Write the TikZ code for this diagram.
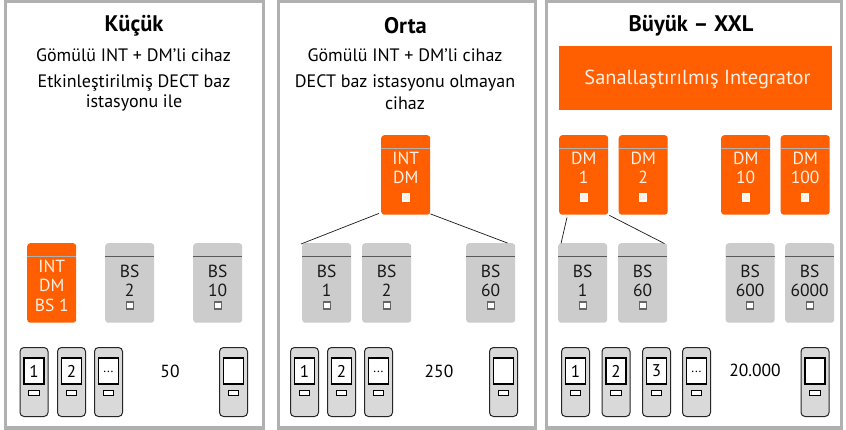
\documentclass[tikz,border=0pt]{standalone}
\usepackage{fontspec}
\setmainfont{PT Sans}
\usetikzlibrary{calc}
\definecolor{orng}{HTML}{FF5F00}
\definecolor{panelgray}{HTML}{B0B0B0}
\definecolor{bsgray}{HTML}{CCCCCC}
\definecolor{phonegray}{HTML}{D9D9D9}
\definecolor{pale}{HTML}{FFF0E6}
\tikzset{
  x=1pt,y=-1pt,
  panel/.style={draw=panelgray,line width=3.3pt,fill=white},
  devbase/.style={anchor=north west,minimum width=49pt,minimum height=79.5pt,inner sep=0pt,rounded corners=3pt,draw=none},
  orangebox/.style={devbase,fill=orng},
  graybox/.style={devbase,fill=bsgray},
  olab/.style={text=pale,font=\fontsize{17.5}{18}\selectfont,inner sep=0pt},
  glab/.style={text=black!90,font=\fontsize{17.5}{18}\selectfont,inner sep=0pt},
  osq/.style={fill=pale,draw=white,line width=1.2pt,minimum size=7pt,inner sep=0pt},
  gsq/.style={fill=white,draw=black!60,line width=1.2pt,minimum size=7pt,inner sep=0pt},
  phonebody/.style={anchor=north west,minimum width=28pt,minimum height=69pt,inner sep=0pt,rounded corners=4pt,fill=phonegray,draw=black!85,line width=1pt},
  screen/.style={minimum width=20pt,minimum height=26pt,inner sep=0pt,fill=white,draw=black,line width=1.6pt,font=\fontsize{17}{18}\selectfont},
  pbtn/.style={minimum width=10.5pt,minimum height=5.5pt,inner sep=0pt,fill=white,draw=black,line width=1.1pt},
  conn/.style={draw=black!90,line width=.7pt},
  titletext/.style={font=\bfseries\fontsize{22.5}{22}\selectfont,inner sep=0pt},
  subtext/.style={font=\fontsize{18}{16}\selectfont,inner sep=0pt},
  cnt/.style={font=\fontsize{17.5}{16}\selectfont,inner sep=0pt}
}
\newcommand{\scrdots}{{\fontsize{13}{13}\selectfont\raisebox{-4pt}{...}}}
% #1 name, #2 x, #3 y, #4 line 1, #5 line 2
\newcommand{\obox}[5]{%
  \node[orangebox] (#1) at (#2,#3) {};
  \draw[panelgray,line width=1.8pt] ($(#1.north west)+(0,13.5)$) -- ($(#1.north east)+(0,13.5)$);
  \node[olab] (#1a) at ($(#1.north)+(0,23)$) {#4};
  \node[olab] (#1b) at ($(#1.north)+(0,42)$) {#5};
  \node[osq] (#1s) at ($(#1.north)+(0,62.5)$) {};
}
\newcommand{\gbox}[5]{%
  \node[graybox] (#1) at (#2,#3) {};
  \draw[black!65,line width=.7pt] ($(#1.north west)+(0,13.5)$) -- ($(#1.north east)+(0,13.5)$);
  \node[glab] (#1a) at ($(#1.north)+(0,28)$) {#4};
  \node[glab] (#1b) at ($(#1.north)+(0,47)$) {#5};
  \node[gsq] (#1s) at ($(#1.north)+(0,62.5)$) {};
}
% #1 name, #2 x, #3 screen text
\newcommand{\phone}[3]{%
  \node[phonebody] (#1) at (#2,347) {};
  \node[screen] (#1s) at ($(#1.north)+(0,24)$) {#3};
  \node[pbtn] (#1b) at ($(#1.north)+(0,46)$) {};
}
\begin{document}
\begin{tikzpicture}
\useasboundingbox (0,0) rectangle (846,430);
\fill[white] (0,0) rectangle (846,430);
\draw[panel] (5.5,1.5) rectangle (263.5,428);
\draw[panel] (278.5,1.5) rectangle (535.5,428);
\draw[panel] (546.5,1.5) rectangle (841.5,428);
% Panel 1
\node[titletext] (t1) at (134,25.5) {Küçük};
\node[subtext] (s1) at (133.5,55.5) {Gömülü INT + DM’li cihaz};
\node[subtext] (s1b) at (134,82.5) {Etkinleştirilmiş DECT baz};
\node[subtext] (s1c) at (134,103) {istasyonu ile};
\node[orangebox] (a1) at (27,243) {};
\draw[panelgray,line width=1.8pt] ($(a1.north west)+(0,13.5)$) -- ($(a1.north east)+(0,13.5)$);
\node[olab] (a1a) at ($(a1.north)+(0,23)$) {INT};
\node[olab] (a1b) at ($(a1.north)+(0,42)$) {DM};
\node[olab] (a1c) at ($(a1.north)+(0,62)$) {BS 1};
\gbox{a2}{105}{243}{BS}{2}
\gbox{a3}{193}{243}{BS}{10}
\phone{p1}{19.5}{1}
\phone{p2}{57}{2}
\phone{p3}{94}{\scrdots}
\phone{p4}{219}{}
\node[cnt] (c1) at (170,371) {50};
% Panel 2
\node[titletext] (t2) at (405.5,25.5) {Orta};
\node[subtext] (s2) at (405,55.5) {Gömülü INT + DM’li cihaz};
\node[subtext] (s2b) at (405,82.5) {DECT baz istasyonu olmayan};
\node[subtext] (s2c) at (405,103) {cihaz};
\obox{b0}{381}{135}{INT}{DM}
\gbox{b1}{302}{243}{BS}{1}
\gbox{b2}{362}{243}{BS}{2}
\gbox{b3}{466}{243}{BS}{60}
\draw[conn] ($(b0.south west)+(-2,-1.5)$) -- ($(b1.north west)+(-1,1)$);
\draw[conn] ($(b0.south east)+(0,-1)$) -- ($(b3.north east)+(-8,0)$);
\phone{q1}{290}{1}
\phone{q2}{327}{2}
\phone{q3}{364}{\scrdots}
\phone{q4}{489}{}
\node[cnt] (c2) at (439,371) {250};
% Panel 3
\node[titletext] (t3) at (691,25.5) {Büyük – XXL};
\node[anchor=north west,minimum width=273pt,minimum height=64pt,inner sep=0pt,fill=orng] (v) at (559,46) {};
\node[text=pale,inner sep=0pt,font=\fontsize{20.4}{22}\selectfont] (vt) at (697.5,79.5) {Sanallaştırılmış Integrator};
\obox{d1}{559}{135}{DM}{1}
\obox{d2}{618.5}{135}{DM}{2}
\obox{d3}{721}{135}{DM}{10}
\obox{d4}{780.5}{135}{DM}{100}
\gbox{e1}{558}{243}{BS}{1}
\gbox{e2}{618}{243}{BS}{60}
\gbox{e3}{725.5}{243}{BS}{600}
\gbox{e4}{785}{243}{BS}{6000}
\draw[conn] ($(d1.south west)+(8,2.5)$) -- ($(e1.north west)+(3,0.5)$);
\draw[conn] ($(d1.south east)+(1,0.5)$) -- ($(e2.north east)+(-3,0.5)$);
\phone{r1}{561}{1}
\phone{r2}{601.5}{2}
\phone{r3}{642}{3}
\phone{r4}{682}{\scrdots}
\phone{r5}{800.5}{}
\node[cnt] (c3) at (755,370) {20.000};
\end{tikzpicture}
\end{document}
